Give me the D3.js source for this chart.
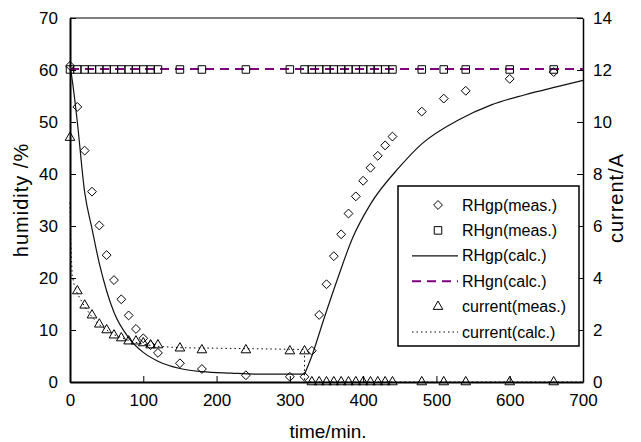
<!DOCTYPE html>
<html>
<head>
<meta charset="utf-8">
<script src="https://cdn.jsdelivr.net/npm/d3@7"></script>
<style>
  body { margin: 0; background: #fff; }
  svg text { font-family: "Liberation Sans", Arial, sans-serif; fill: #000; }
</style>
</head>
<body>
<div id="chart"></div>
<script>
// measured times (min)
var timeMeas = [0, 10, 20, 30, 40, 50, 60, 70, 80, 90, 100, 110, 120, 150, 180, 240, 300,
                320, 330, 340, 350, 360, 370, 380, 390, 400, 410, 420, 430, 440, 480, 510, 540, 600, 660];
var rhgpMeas = [60.8, 52.9, 44.5, 36.6, 30.1, 24.4, 19.6, 15.9, 12.8, 10.2, 8.4, 7.1, 5.6, 3.6, 2.5, 1.3, 1.0,
                1.0, 6.0, 12.9, 18.8, 24.2, 28.4, 32.4, 35.7, 38.7, 41.2, 43.5, 45.5, 47.2, 52.0, 54.5, 56.0, 58.3, 59.6];
var rhgnMeas = [60.1, 60.1, 60.1, 60.1, 60.1, 60.1, 60.1, 60.1, 60.1, 60.1, 60.1, 60.1, 60.1, 60.1, 60.1, 60.1, 60.1,
                60.1, 60.1, 60.1, 60.1, 60.1, 60.1, 60.1, 60.1, 60.1, 60.1, 60.1, 60.1, 60.1, 60.1, 60.1, 60.1, 60.1, 60.1];
var currentMeas = [9.4, 3.5, 2.95, 2.57, 2.22, 2.0, 1.8, 1.69, 1.57, 1.57, 1.5, 1.42, 1.42, 1.3, 1.23, 1.23, 1.19,
                   1.19, 0, 0, 0, 0, 0, 0, 0, 0, 0, 0, 0, 0, 0, 0, 0, 0, 0];

// calculated curves
var rhgpCalcT = [0, 5, 10, 20, 30, 40, 50, 60, 80, 100, 120, 150, 180, 220, 260, 320,
                 330, 345, 365, 385, 410, 450, 480, 530, 575, 620, 665, 700];
var rhgpCalcV = [61, 56, 50, 36.5, 29.5, 22.8, 17.5, 13.4, 8.5, 5.7, 4.0, 2.6, 2.0, 1.7, 1.5, 1.5,
                 5.0, 11.5, 19.8, 27.5, 34.2, 41.4, 45.8, 50.4, 53.3, 55.2, 56.8, 58.0];
var rhgnCalcT = [0, 700];
var rhgnCalcV = [60.2, 60.2];
var currentCalcT = [0, 1, 3, 6, 10, 20, 30, 40, 50, 60, 80, 100, 120, 150, 200, 250, 320, 320, 700];
var currentCalcV = [6.9, 5.4, 4.1, 3.7, 3.4, 2.9, 2.5, 2.2, 2.0, 1.82, 1.6, 1.45, 1.37, 1.32, 1.3, 1.28, 1.25, 0, 0];

var xTicks = [0, 100, 200, 300, 400, 500, 600, 700];
var humTicks = [0, 10, 20, 30, 40, 50, 60, 70];
var curTicks = [0, 2, 4, 6, 8, 10, 12, 14];

var legendLabels = ["RHgp(meas.)", "RHgn(meas.)", "RHgp(calc.)", "RHgn(calc.)", "current(meas.)", "current(calc.)"];

var width = 641, height = 442;
var plotL = 70, plotR = 583, plotT = 18, plotB = 382;

var svg = d3.select("#chart").append("svg")
    .attr("width", width)
    .attr("height", height);

var x = d3.scaleLinear().domain([0, 700]).range([plotL, plotR]);
var yH = d3.scaleLinear().domain([0, 70]).range([plotB, plotT]);
var yC = d3.scaleLinear().domain([0, 14]).range([plotB, plotT]);

function pairs(ts, vs) {
    return ts.map(function(t, i) { return [t, vs[i]]; });
}

// plot frame top
svg.append("line")
    .attr("x1", plotL).attr("x2", plotR)
    .attr("y1", plotT).attr("y2", plotT)
    .attr("stroke", "#000").attr("stroke-width", 1);

// axes
var gx = svg.append("g")
    .attr("transform", "translate(0," + plotB + ")")
    .call(d3.axisBottom(x).tickValues(xTicks).tickSizeInner(-6).tickSizeOuter(0).tickPadding(12));
var gl = svg.append("g")
    .attr("transform", "translate(" + plotL + ",0)")
    .call(d3.axisLeft(yH).tickValues(humTicks).tickSizeInner(-6).tickSizeOuter(0).tickPadding(12));
var gr = svg.append("g")
    .attr("transform", "translate(" + plotR + ",0)")
    .call(d3.axisRight(yC).tickValues(curTicks).tickSizeInner(-6).tickSizeOuter(0).tickPadding(10));

[gx, gl, gr].forEach(function(g) {
    g.selectAll("text").style("font-size", "17px").attr("fill", "#000");
    g.selectAll("line").attr("stroke", "#000");
    g.select(".domain").attr("stroke", "#000").attr("stroke-width", 2);
});
gr.select(".domain").attr("stroke-width", 1.5);

// axis titles
svg.append("text")
    .attr("transform", "translate(28,200) rotate(-90)")
    .attr("text-anchor", "middle")
    .style("font-size", "20px")
    .style("letter-spacing", "1px")
    .text("humidity  /%");
svg.append("text")
    .attr("transform", "translate(623,198) rotate(-90)")
    .attr("text-anchor", "middle")
    .style("font-size", "20px")
    .style("letter-spacing", "1px")
    .text("current/A");
svg.append("text")
    .attr("x", 328).attr("y", 438)
    .attr("text-anchor", "middle")
    .style("font-size", "19px")
    .text("time/min.");

// calc lines
var lineH = d3.line()
    .x(function(d) { return x(d[0]); })
    .y(function(d) { return yH(d[1]); });
var lineC = d3.line()
    .x(function(d) { return x(d[0]); })
    .y(function(d) { return yC(d[1]); });

svg.append("path")
    .datum(pairs(currentCalcT, currentCalcV))
    .attr("d", lineC)
    .attr("fill", "none")
    .attr("stroke", "#000")
    .attr("stroke-width", 1)
    .attr("stroke-dasharray", "1.5,3");

var rhgpBefore = pairs(rhgpCalcT, rhgpCalcV).filter(function(d) { return d[0] <= 320; });
var rhgpAfter = pairs(rhgpCalcT, rhgpCalcV).filter(function(d) { return d[0] >= 320; });
[rhgpBefore, rhgpAfter].forEach(function(seg) {
    svg.append("path")
        .datum(seg)
        .attr("d", lineH.curve(d3.curveMonotoneX))
        .attr("fill", "none")
        .attr("stroke", "#111")
        .attr("stroke-width", 1.2);
});

svg.append("path")
    .datum(pairs(rhgnCalcT, rhgnCalcV))
    .attr("d", d3.line().x(function(d) { return x(d[0]); }).y(function(d) { return yH(d[1]); }))
    .attr("fill", "none")
    .attr("stroke", "#800080")
    .attr("stroke-width", 2)
    .attr("stroke-dasharray", "9,6");

// markers
var diamond = d3.symbol().type(d3.symbolDiamond2).size(50);
var square = d3.symbol().type(d3.symbolSquare2).size(72);
var triangle = d3.symbol().type(d3.symbolTriangle2).size(66);

svg.append("g").selectAll("path")
    .data(pairs(timeMeas, rhgnMeas))
    .join("path")
    .attr("d", square)
    .attr("transform", function(d) { return "translate(" + x(d[0]) + "," + yH(d[1]) + ")"; })
    .attr("fill", "none").attr("stroke", "#000").attr("stroke-width", 1);

svg.append("g").selectAll("path")
    .data(pairs(timeMeas, rhgpMeas))
    .join("path")
    .attr("d", diamond)
    .attr("transform", function(d) { return "translate(" + x(d[0]) + "," + yH(d[1]) + ")"; })
    .attr("fill", "none").attr("stroke", "#000").attr("stroke-width", 1);

svg.append("g").selectAll("path")
    .data(pairs(timeMeas, currentMeas))
    .join("path")
    .attr("d", triangle)
    .attr("transform", function(d) { return "translate(" + x(d[0]) + "," + yC(d[1]) + ")"; })
    .attr("fill", "none").attr("stroke", "#000").attr("stroke-width", 1);

// legend
var lg = svg.append("g").attr("transform", "translate(398,186)");
lg.append("rect")
    .attr("width", 181).attr("height", 160)
    .attr("fill", "#fff").attr("stroke", "#000").attr("stroke-width", 1.5);

var rowY = function(i) { return 19 + i * 25.4; };
lg.selectAll("text.lab")
    .data(legendLabels)
    .join("text")
    .attr("class", "lab")
    .attr("x", 64)
    .attr("y", function(d, i) { return rowY(i); })
    .attr("dy", "0.35em")
    .style("font-size", "16px")
    .text(function(d) { return d; });

lg.append("path").attr("d", diamond)
    .attr("transform", "translate(40," + rowY(0) + ")")
    .attr("fill", "none").attr("stroke", "#000");
lg.append("path").attr("d", square)
    .attr("transform", "translate(40," + rowY(1) + ")")
    .attr("fill", "none").attr("stroke", "#000");
lg.append("line")
    .attr("x1", 14).attr("x2", 60).attr("y1", rowY(2)).attr("y2", rowY(2))
    .attr("stroke", "#111").attr("stroke-width", 1.2);
lg.append("line")
    .attr("x1", 14).attr("x2", 60).attr("y1", rowY(3)).attr("y2", rowY(3))
    .attr("stroke", "#800080").attr("stroke-width", 2).attr("stroke-dasharray", "9,6");
lg.append("path").attr("d", triangle)
    .attr("transform", "translate(40," + rowY(4) + ")")
    .attr("fill", "none").attr("stroke", "#000");
lg.append("line")
    .attr("x1", 14).attr("x2", 60).attr("y1", rowY(5)).attr("y2", rowY(5))
    .attr("stroke", "#000").attr("stroke-width", 1).attr("stroke-dasharray", "1.5,3");
</script>
</body>
</html>
